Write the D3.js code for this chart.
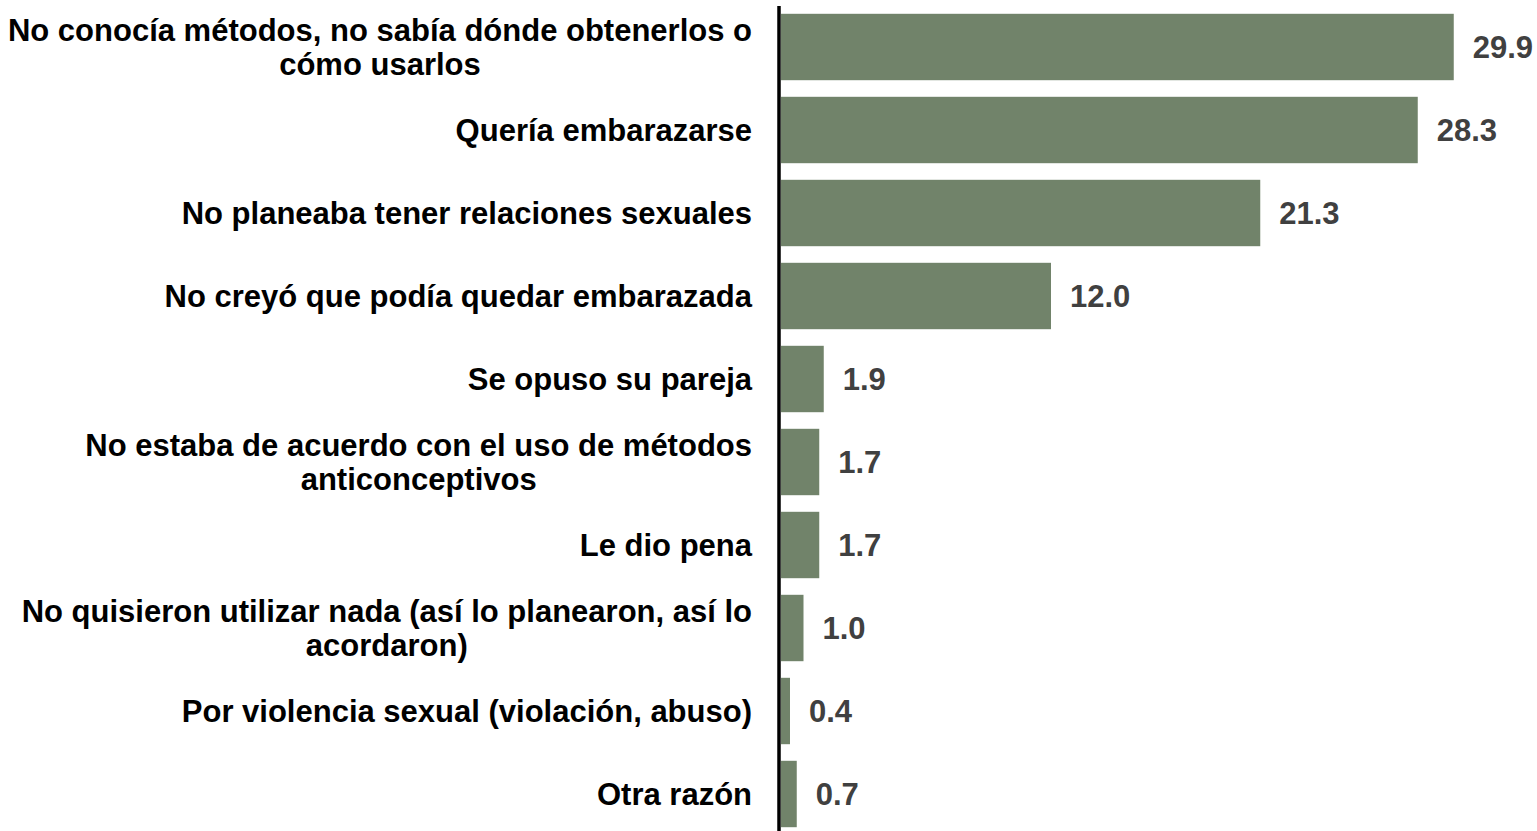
<!DOCTYPE html>
<html>
<head>
<meta charset="utf-8">
<script src="https://cdn.jsdelivr.net/npm/d3@7"></script>
<style>
  body { margin: 0; background: #fff; }
  svg { display: block; font-family: "Liberation Sans", Arial, sans-serif; }
</style>
</head>
<body>
<div id="chart"></div>
<script>
const width = 1537;
const height = 831;

const categories = [
    "No conocía métodos, no sabía dónde obtenerlos o\ncómo usarlos",
    "Quería embarazarse",
    "No planeaba tener relaciones sexuales",
    "No creyó que podía quedar embarazada",
    "Se opuso su pareja",
    "No estaba de acuerdo con el uso de métodos\nanticonceptivos",
    "Le dio pena",
    "No quisieron utilizar nada (así lo planearon, así lo\nacordaron)",
    "Por violencia sexual (violación, abuso)",
    "Otra razón"
];
const values = [29.9, 28.3, 21.3, 12.0, 1.9, 1.7, 1.7, 1.0, 0.4, 0.7];

const data = categories.map((c, i) => ({ label: c, value: values[i] }));

const svg = d3.select("#chart")
    .append("svg")
    .attr("width", width)
    .attr("height", height);

const x = d3.scaleLinear()
    .domain([0, 30])
    .range([781, 1456]);

const y = d3.scaleBand()
    .domain(categories)
    .range([5.5, 835.5])
    .paddingInner(0.2)
    .paddingOuter(0.1);

// bars
svg.append("g")
    .selectAll("rect")
    .data(data)
    .join("rect")
    .attr("x", x(0))
    .attr("y", d => y(d.label))
    .attr("width", d => x(d.value) - x(0))
    .attr("height", y.bandwidth())
    .attr("fill", "#71836a");

// value labels
svg.append("g")
    .selectAll("text")
    .data(data)
    .join("text")
    .attr("x", d => x(d.value) + 19)
    .attr("y", d => y(d.label) + y.bandwidth() / 2)
    .attr("dy", "0.36em")
    .attr("fill", "#404040")
    .style("font-size", "31px")
    .style("font-weight", "bold")
    .text(d => d.value.toFixed(1));

// category labels: block right-aligned at 752, lines centred in the block
const labelRight = 752;
const lineGap = 34;
const labels = svg.append("g")
    .selectAll("text")
    .data(data)
    .join("text")
    .attr("text-anchor", "middle")
    .attr("fill", "#000")
    .style("font-size", "31px")
    .style("font-weight", "bold");

labels.each(function (d) {
    const lines = d.label.split("\n");
    const cy = y(d.label) + y.bandwidth() / 2;
    const y0 = cy - (lines.length - 1) * lineGap / 2;
    const spans = d3.select(this).selectAll("tspan")
        .data(lines)
        .join("tspan")
        .attr("y", (l, i) => y0 + i * lineGap)
        .attr("dy", "0.36em")
        .text(l => l);
    const maxW = d3.max(spans.nodes(), n => n.getComputedTextLength());
    spans.attr("x", labelRight - maxW / 2);
});

// axis line
svg.append("line")
    .attr("x1", 779)
    .attr("x2", 779)
    .attr("y1", 6)
    .attr("y2", height)
    .attr("stroke", "#000")
    .attr("stroke-width", 3.5);
</script>
</body>
</html>
